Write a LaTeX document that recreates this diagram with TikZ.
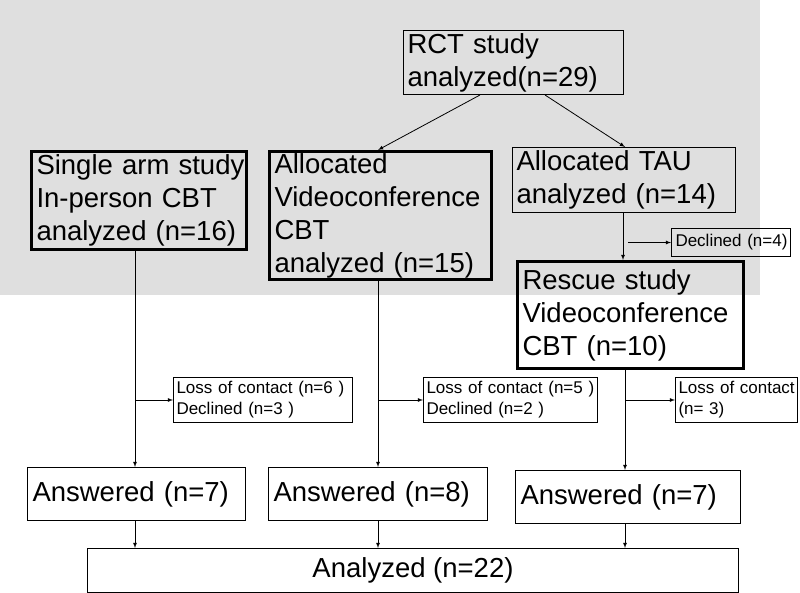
\documentclass[tikz,border=0pt]{standalone}
\usepackage{fontspec}
\setmainfont{Liberation Sans}
\begin{document}
\begin{tikzpicture}[x=1pt,y=-1pt,
 box/.style={draw,line width=1pt,inner sep=0,align=left,anchor=north west},
 thick box/.style={box,line width=3pt},
 big/.style={font=\fontsize{27.5}{33}\selectfont},
 small/.style={font=\fontsize{17}{21}\selectfont},
 arr/.style={-latex,line width=0.8pt}]
\useasboundingbox (0,0) rectangle (800,593);
\fill[gray!25] (0,0) rectangle (760,295);
\node[box,big,minimum width=220,minimum height=64,text width=216] (rct) at (403,30) {\hspace*{2pt}RCT study\\\hspace*{2pt}analyzed(n=29)};
\node[thick box,big,minimum width=215,minimum height=98,text width=211] (single) at (30,150) {\hspace*{3pt}Single arm study\\\hspace*{3pt}In-person CBT\\\hspace*{3pt}analyzed (n=16)};
\node[thick box,big,minimum width=222,minimum height=128,text width=218] (video) at (268,150) {\hspace*{3pt}Allocated\\\hspace*{3pt}Videoconference\\\hspace*{3pt}CBT\\\hspace*{3pt}analyzed (n=15)};
\node[box,big,minimum width=223,minimum height=65,text width=219] (tau) at (512,147) {\hspace*{2pt}Allocated TAU\\\hspace*{2pt}analyzed (n=14)};
\node[box,small,minimum width=119,minimum height=28,text width=117] (dec) at (671,228) {\hspace*{3pt}Declined (n=4)};
\node[thick box,big,minimum width=226,minimum height=107,text width=222] (rescue) at (516,260) {\hspace*{3pt}Rescue study\\\hspace*{3pt}Videoconference\\\hspace*{3pt}CBT (n=10)};
\node[box,small,minimum width=179,minimum height=45,text width=177] (l1) at (173,377) {\hspace*{2pt}Loss of contact (n=6 )\\\hspace*{2pt}Declined (n=3 )};
\node[box,small,minimum width=174,minimum height=45,text width=172] (l2) at (423,377) {\hspace*{2pt}Loss of contact (n=5 )\\\hspace*{2pt}Declined (n=2 )};
\node[box,small,minimum width=122,minimum height=45,text width=120] (l3) at (675,377) {\hspace*{2pt}Loss of contact\\\hspace*{2pt}(n= 3)};
\node[box,big,minimum width=218,minimum height=53,text width=214] (a1) at (27,467) {\hspace*{3pt}Answered (n=7)};
\node[box,big,minimum width=219,minimum height=53,text width=215] (a2) at (268,467) {\hspace*{3pt}Answered (n=8)};
\node[box,big,minimum width=225,minimum height=53,text width=221] (a3) at (515,470) {\hspace*{3pt}Answered (n=7)};
\node[box,big,minimum width=651,minimum height=44,align=center] (an) at (87,548) {Analyzed (n=22)};
% connectors
\draw[arr] (rct.south -| 480,0) -- (video.north -| 378,0);
\draw[arr] (rct.south -| 545,0) -- (tau.north -| 625,0);
\draw[arr] (tau.south -| 623,0) -- (rescue.north -| 623,0);
\draw[arr] (dec.west -| 628,0) -- (dec.west);
\draw[arr] (single.south -| 135,0) -- (a1.north -| 135,0);
\draw[arr] (video.south -| 378,0) -- (a2.north -| 378,0);
\draw[arr] (rescue.south -| 625,0) -- (a3.north -| 625,0);
\draw[arr] (l1.west -| 135,0) -- (l1.west);
\draw[arr] (l2.west -| 378,0) -- (l2.west);
\draw[arr] (l3.west -| 625,0) -- (l3.west);
\draw[arr] (a1.south -| 135,0) -- (an.north -| 135,0);
\draw[arr] (a2.south -| 378,0) -- (an.north -| 378,0);
\draw[arr] (a3.south -| 625,0) -- (an.north -| 625,0);
\end{tikzpicture}
\end{document}
